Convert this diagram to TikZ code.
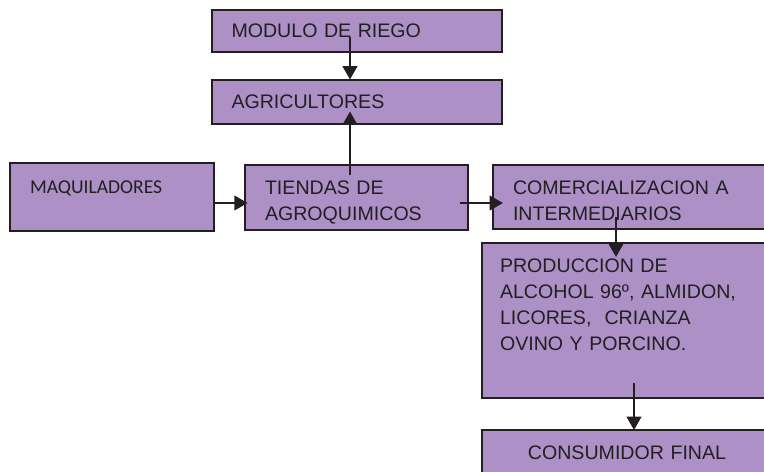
\documentclass[tikz,border=0pt]{standalone}
\usepackage{fontspec}
\setmainfont{Liberation Sans}
\newfontfamily\calibri{Carlito}
\usepackage{tikz}
\usetikzlibrary{arrows.meta,positioning}
\usepackage{xcolor}
\definecolor{lila}{HTML}{AC90C6}
\definecolor{borde}{HTML}{231F20}

\begin{document}
\begin{tikzpicture}[x=0.75bp,y=-0.75bp,->,>={Triangle[length=10bp,width=11bp]},line width=1.5bp,color=borde]
\tikzstyle{caja}=[rectangle,draw=borde,fill=lila,line width=1.5bp,align=left,outer sep=0pt,inner ysep=0pt,inner xsep=15bp,font=\fontsize{14.7bp}{19.5bp}\selectfont]
\useasboundingbox (0,0) rectangle (764,472);

\node[caja,minimum width=153bp,minimum height=51bp,text width=123bp,text height=10bp,text depth=16bp,font=\calibri\fontsize{14.7bp}{19.5bp}\selectfont] (MQ) at (112,197) {MAQUILADORES};
\node[caja,minimum width=167.25bp,minimum height=48.75bp,text width=137.25bp,text height=18.7bp] (TA) [right=23.25bp of MQ] {TIENDAS DE\\AGROQUIMICOS};
\node[caja,minimum width=260bp,minimum height=48bp,text width=230bp,text height=16.5bp] (CI) [right=18.75bp of TA] {COMERCIALIZACION A\\INTERMEDIARIOS};
\node[caja,minimum width=217.5bp,minimum height=33bp,text width=187.5bp] (AG) [above=30.75bp of TA] {AGRICULTORES};
\node[caja,minimum width=217.5bp,minimum height=31.5bp,text width=187.5bp] (MR) [above=21bp of AG] {MODULO DE RIEGO};
\node[caja,minimum width=260bp,minimum height=116.25bp,text width=233bp,inner xsep=13.5bp,text depth=83bp,anchor=north west] (PR) at ([xshift=-8.25bp,yshift=-10.5bp]CI.south west) {PRODUCCION DE\\ALCOHOL 96º, ALMIDON,\\LICORES, \ CRIANZA\\OVINO Y PORCINO.};
\node[caja,minimum width=217.5bp,minimum height=34.5bp,text width=187.5bp,align=center] (CF) [below=24bp of PR.south west,anchor=north west] {CONSUMIDOR FINAL};

\draw ([xshift=-4.9bp,yshift=11.25bp]MR.south) -- ([xshift=-4.9bp]AG.north);
\draw ([xshift=-4.9bp,yshift=-7.5bp]TA.north) -- ([xshift=-4.9bp,yshift=9bp]AG.south);
\draw ([yshift=-4.5bp]MQ.east) -- ([xshift=2bp,yshift=-4.5bp]TA.west);
\draw ([xshift=-6bp,yshift=-4.5bp]TA.east) -- ([xshift=7.5bp,yshift=-4.5bp]CI.west);
\draw ([xshift=92.25bp,yshift=9bp]CI.south west) -- ([xshift=100.5bp,yshift=-10.5bp]PR.north west);
\draw ([xshift=114bp,yshift=11.25bp]PR.south west) -- ([xshift=114bp]CF.north west);
\end{tikzpicture}
\end{document}
